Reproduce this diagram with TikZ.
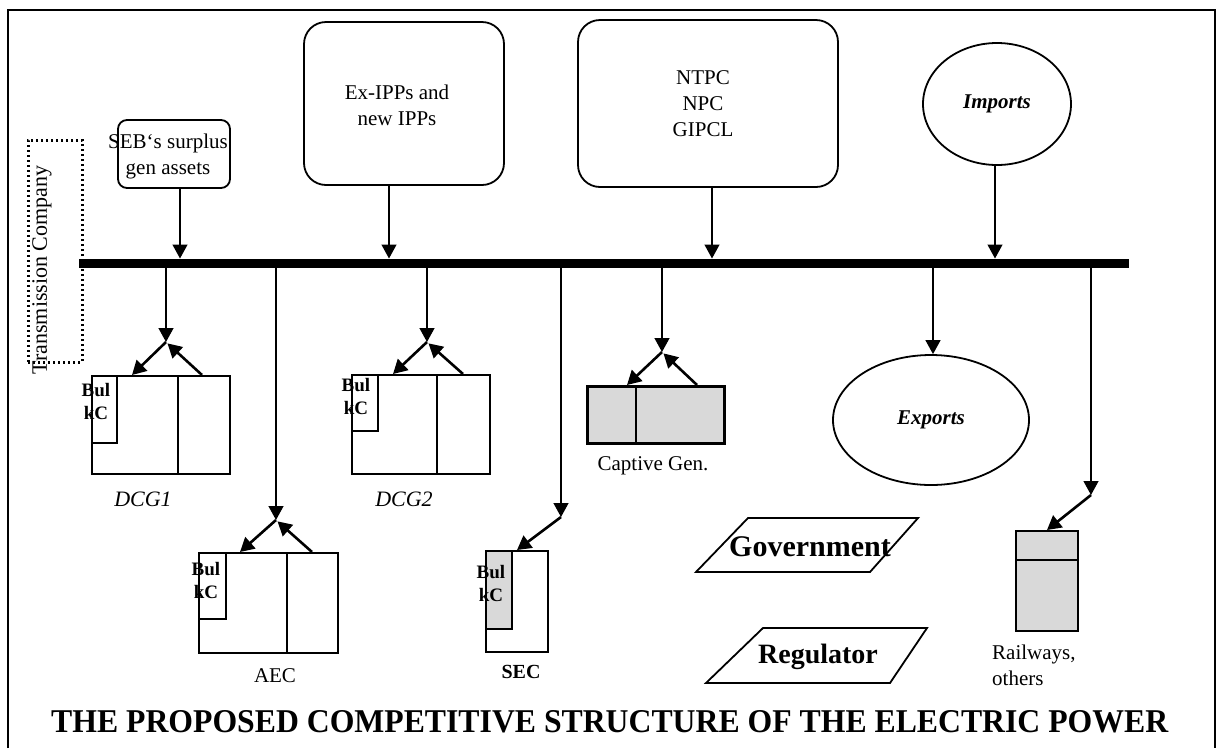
\documentclass[tikz,border=0pt]{standalone}
\usepackage{fontspec}
\usepackage{graphicx}
\setmainfont{Liberation Serif}
\usetikzlibrary{arrows.meta,shapes.geometric}
\begin{document}
\begin{tikzpicture}[x=1pt,y=-1pt,
  lbl/.style={inner sep=0pt, align=center, font=\fontsize{21}{26}\selectfont},
  rbox/.style={draw, line width=1.8pt, rounded corners=#1, inner sep=0pt},
  sbox/.style={draw, line width=1.8pt, inner sep=0pt, anchor=north west},
  gbox/.style={sbox, fill=black!15},
  bul/.style={inner sep=0pt, align=center, font=\fontsize{19}{23}\selectfont\bfseries},
  tipst/.style={-{Triangle[width=15pt,length=14pt]}},
  vline/.style={line width=1.3pt, tipst},
  dline/.style={line width=2.6pt, tipst},
  divl/.style={line width=1.8pt},
  ]
\useasboundingbox (0,0) rectangle (1221,748);
% frame
\draw[line width=1.8pt] (8,748) -- (8,10) -- (1215,10) -- (1215,748);

% transmission company
\node[draw, line width=3pt, dash pattern=on 2.4pt off 2.6pt, minimum width=54pt, minimum height=222pt, inner sep=0pt] (tc) at (55,251) {};
\node[lbl, rotate=90, font=\fontsize{22}{26}\selectfont] (tct) at (42,270) {Transmission Company};

% bus bar
\coordinate (busL) at (79,263);
\coordinate (busR) at (1129,263);
\draw[line width=9pt] (busL) -- (busR);

% top sources
\node[rbox=9pt, minimum width=112pt, minimum height=68pt] (seb) at (174,154) {};
\node[lbl] (sebt) at (168,156) {SEB`s surplus\\gen assets};
\node[rbox=22pt, minimum width=200pt, minimum height=163pt] (ipp) at (404,103.5) {};
\node[lbl] (ippt) at (397,105) {Ex-IPPs and\\new IPPs};
\node[rbox=22pt, minimum width=260pt, minimum height=167pt] (ntpc) at (708,103.5) {};
\node[lbl] (ntpct) at (703,104) {NTPC\\NPC\\GIPCL};
\node[draw, ellipse, line width=1.8pt, minimum width=148pt, minimum height=122pt, inner sep=0pt, font=\fontsize{21}{26}\selectfont\bfseries\itshape] (imp) at (997,104) {Imports};

\coordinate (in1) at (180,258.5);
\coordinate (in2) at (389,258.5);
\coordinate (in3) at (712,258.5);
\coordinate (in4) at (995,258.5);
\draw[vline] (seb.south -| in1) -- (in1);
\draw[vline] (ipp.south -| in2) -- (in2);
\draw[vline] (ntpc.south -| in3) -- (in3);
\draw[vline] (imp.south -| in4) -- (in4);

% drops
\coordinate (d1) at (166,267.5);
\coordinate (d2) at (276,267.5);
\coordinate (d3) at (427,267.5);
\coordinate (d4) at (561,267.5);
\coordinate (d5) at (662,267.5);
\coordinate (d6) at (933,267.5);
\coordinate (d7) at (1091,267.5);

% DCG1
\node[sbox, minimum width=138pt, minimum height=98pt] (dcg1) at (91,375) {};
\draw[divl] ([xshift=87pt]dcg1.north west) -- ([xshift=87pt]dcg1.south west);
\node[sbox, minimum width=25pt, minimum height=67pt] (bk1) at (91,375) {};
\node[bul] (bk1t) at (96,401) {Bul\\kC};
\coordinate (ap1) at (166,342);
\draw[vline] (d1) -- (ap1);
\draw[dline] (ap1) -- ([xshift=41pt]dcg1.north west);
\draw[dline, shorten >=2pt] ([xshift=111pt]dcg1.north west) -- (ap1);
\node[lbl, font=\fontsize{22}{26}\selectfont\itshape] (dcg1l) at (143,499) {DCG1};

% DCG2
\node[sbox, minimum width=138pt, minimum height=99pt] (dcg2) at (351,374) {};
\draw[divl] ([xshift=86pt]dcg2.north west) -- ([xshift=86pt]dcg2.south west);
\node[sbox, minimum width=26pt, minimum height=56pt] (bk2) at (351,374) {};
\node[bul] (bk2t) at (356,396) {Bul\\kC};
\coordinate (ap2) at (427,342);
\draw[vline] (d3) -- (ap2);
\draw[dline] (ap2) -- ([xshift=42pt]dcg2.north west);
\draw[dline, shorten >=2pt] ([xshift=112pt]dcg2.north west) -- (ap2);
\node[lbl, font=\fontsize{22}{26}\selectfont\itshape] (dcg2l) at (404,499) {DCG2};

% AEC
\node[sbox, minimum width=139pt, minimum height=100pt] (aec) at (198,552) {};
\draw[divl] ([xshift=89pt]aec.north west) -- ([xshift=89pt]aec.south west);
\node[sbox, minimum width=27pt, minimum height=66pt] (bk3) at (198,552) {};
\node[bul] (bk3t) at (206,580) {Bul\\kC};
\coordinate (ap3) at (276,520);
\draw[vline] (d2) -- (ap3);
\draw[dline] (ap3) -- ([xshift=42pt]aec.north west);
\draw[dline, shorten >=2pt] ([xshift=114pt]aec.north west) -- (ap3);
\node[lbl] (aecl) at (275,676) {AEC};

% SEC
\node[sbox, minimum width=62pt, minimum height=101pt] (sec) at (485,550) {};
\node[gbox, minimum width=26pt, minimum height=78pt] (bk4) at (485,550) {};
\node[bul] (bk4t) at (491,583) {Bul\\kC};
\coordinate (ap4) at (561,517);
\draw[vline] (d4) -- (ap4);
\draw[dline] (ap4) -- ([xshift=32pt]sec.north west);
\node[lbl, font=\fontsize{20}{24}\selectfont\bfseries] (secl) at (521,672) {SEC};

% Captive
\node[gbox, line width=2.6pt, minimum width=137pt, minimum height=57pt] (capg) at (586,385) {};
\draw[line width=2.6pt] ([xshift=50pt]capg.north west) -- ([xshift=50pt]capg.south west);
\coordinate (ap5) at (662,352);
\draw[vline] (d5) -- (ap5);
\draw[dline] (ap5) -- ([xshift=41pt]capg.north west);
\draw[dline, shorten >=2pt] ([xshift=111pt]capg.north west) -- (ap5);
\node[lbl] (capl) at (653,466) {Captive Gen.};

% Exports
\node[draw, ellipse, line width=1.8pt, minimum width=196pt, minimum height=130pt, inner sep=0pt, font=\fontsize{21}{26}\selectfont\bfseries\itshape] (exp) at (931,420) {Exports};
\draw[vline] (d6) -- (exp.north -| d6);

% Railways
\node[gbox, line width=2.4pt, minimum width=62pt, minimum height=100pt] (rail) at (1015,530) {};
\draw[divl] ([yshift=-30pt]rail.north west) -- ([yshift=-30pt]rail.north east);
\coordinate (ap7) at (1091,495);
\draw[vline] (d7) -- (ap7);
\draw[dline] (ap7) -- ([xshift=32pt]rail.north west);
\node[lbl, align=left, anchor=west] (raill) at (992,665) {Railways,\\others};

% Government / Regulator
\draw[line width=1.8pt] (748,518) -- (918,518) -- (870,572) -- (696,572) -- cycle;
\node[inner sep=0pt, font=\fontsize{30}{30}\selectfont\bfseries] (gov) at (810,547) {Government};
\draw[line width=1.8pt] (763,628) -- (927,628) -- (890,683) -- (706,683) -- cycle;
\node[inner sep=0pt, font=\fontsize{28}{28}\selectfont\bfseries] (reg) at (818,657) {Regulator};

% caption
\node[inner sep=0pt, anchor=base west] (title) at (51,732) {\resizebox{1117pt}{22pt}{\fontsize{32}{32}\selectfont\bfseries THE PROPOSED COMPETITIVE STRUCTURE OF THE ELECTRIC POWER}};
\end{tikzpicture}
\end{document}
